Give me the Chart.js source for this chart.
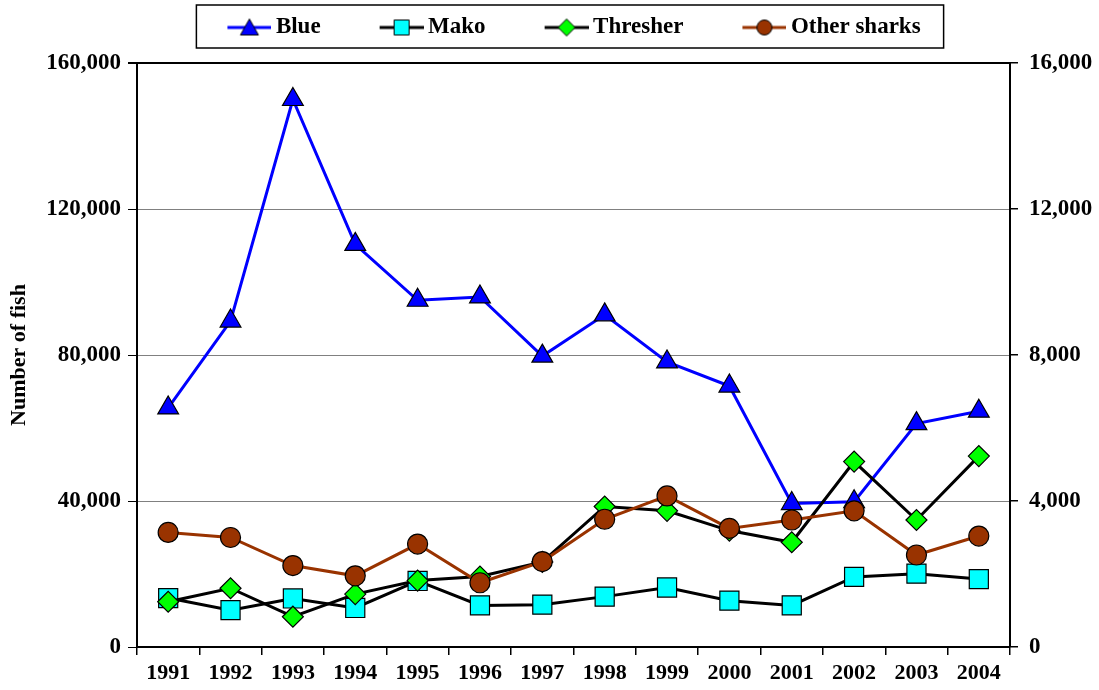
<!DOCTYPE html>
<html lang="en">
<head>
  <meta charset="utf-8" />
  <title>Shark catch by species</title>
  <style>
    html, body { margin: 0; padding: 0; background: #ffffff; }
    #wrap { width: 1099px; height: 690px; }
  </style>
</head>
<body>
  <div id="wrap"><canvas id="chart" width="1099" height="690"></canvas></div>

  <script src="https://cdn.jsdelivr.net/npm/chart.js"></script>

  <script>
    // values (blue on left axis, the rest on right axis)
    const years = ['1991', '1992', '1993', '1994', '1995', '1996', '1997',
                   '1998', '1999', '2000', '2001', '2002', '2003', '2004'];
    const blue = [65500, 89300, 150000, 110300, 95000, 95900, 79700,
                  91000, 78100, 71500, 39300, 39800, 61200, 64600];
    const mako = [1340, 1010, 1330, 1070, 1810, 1140, 1160,
                  1380, 1630, 1270, 1140, 1920, 2010, 1860];
    const thresher = [1240, 1610, 830, 1450, 1820, 1930, 2330,
                      3850, 3730, 3190, 2870, 5080, 3480, 5230];
    const otherSharks = [3140, 3000, 2230, 1950, 2820, 1760, 2340,
                         3500, 4140, 3250, 3480, 3730, 2520, 3040];
    const leftTicks = [0, 40000, 80000, 120000, 160000];
    const rightTicks = [0, 4000, 8000, 12000, 16000];

    const serif = 'Liberation Serif';
    const fmt = v => Number(v).toLocaleString('en-US');

    // legend icon: line with the marker on it (left part kept transparent for spacing)
    function legendIcon(lineColor, style, fill) {
      const c = document.createElement('canvas');
      c.width = 100; c.height = 26;
      const g = c.getContext('2d');
      const cx = 78, cy = 13;
      g.strokeStyle = lineColor;
      g.lineWidth = 3;
      g.beginPath(); g.moveTo(56, cy); g.lineTo(100, cy); g.stroke();
      g.fillStyle = fill;
      g.strokeStyle = '#000';
      g.lineWidth = 1;
      g.beginPath();
      if (style === 'triangle') {
        g.moveTo(cx, cy - 8.5); g.lineTo(cx + 9, cy + 7.5); g.lineTo(cx - 9, cy + 7.5); g.closePath();
      } else if (style === 'rect') {
        g.rect(cx - 7.5, cy - 7.5, 15, 15);
      } else if (style === 'rectRot') {
        g.moveTo(cx, cy - 8.5); g.lineTo(cx + 8.5, cy); g.lineTo(cx, cy + 8.5); g.lineTo(cx - 8.5, cy); g.closePath();
      } else {
        g.arc(cx, cy, 7.5, 0, Math.PI * 2);
      }
      g.fill(); g.stroke();
      return c;
    }

    const series = [
      { label: 'Blue', data: blue, axis: 'y', line: '#0000ff', fill: '#0000ff', style: 'triangle', r: 12, order: 4 },
      { label: 'Mako', data: mako, axis: 'y2', line: '#000000', fill: '#00ffff', style: 'rect', r: 13.5, order: 3 },
      { label: 'Thresher', data: thresher, axis: 'y2', line: '#000000', fill: '#00ff00', style: 'rectRot', r: 10.5, order: 2 },
      { label: 'Other sharks', data: otherSharks, axis: 'y2', line: '#993300', fill: '#993300', style: 'circle', r: 10, order: 1 },
    ];

    const legendFrame = {
      id: 'legendFrame',
      beforeLayout(chart) {
        const lg = chart.legend;
        if (lg && !lg._tall) {
          const fit = lg.fit;
          lg.fit = function () { fit.call(this); this.height = 57; };
          lg._tall = true;
        }
      },
      afterDraw(chart) {
        const lg = chart.legend;
        const hb = lg && lg.legendHitBoxes;
        if (!hb || !hb.length) return;
        const last = hb[hb.length - 1];
        const x0 = hb[0].left + 18;
        const x1 = last.left + last.width + 23;
        const ctx = chart.ctx;
        ctx.save();
        ctx.strokeStyle = '#000';
        ctx.lineWidth = 1.5;
        ctx.strokeRect(x0, lg.top - 1, x1 - x0, 43);
        ctx.restore();
      }
    };

    new Chart(document.getElementById('chart'), {
      type: 'line',
      data: {
        labels: years,
        datasets: series.map(s => ({
          label: s.label,
          data: s.data,
          yAxisID: s.axis,
          borderColor: s.line,
          backgroundColor: s.fill,
          borderWidth: 3,
          pointStyle: s.style,
          pointRadius: s.r,
          pointBackgroundColor: s.fill,
          pointBorderColor: '#000',
          pointBorderWidth: 1.2,
          tension: 0,
          order: s.order,
          _icon: legendIcon(s.line, s.style, s.fill)
        }))
      },
      options: {
        responsive: false,
        animation: false,
        devicePixelRatio: 1,
        layout: { padding: { top: 6, left: 0, right: 0, bottom: 0 } },
        plugins: {
          tooltip: { enabled: false },
          legend: {
            position: 'top',
            labels: {
              usePointStyle: true,
              pointStyleWidth: 86,
              padding: 10,
              color: '#000',
              font: { family: serif, weight: 'bold', size: 23 },
              generateLabels(chart) {
                return chart.data.datasets.map((ds, i) => ({
                  text: ds.label,
                  pointStyle: ds._icon,
                  fillStyle: ds.backgroundColor,
                  strokeStyle: ds.borderColor,
                  lineWidth: 0,
                  fontColor: '#000',
                  hidden: false,
                  datasetIndex: i
                }));
              }
            }
          }
        },
        scales: {
          x: {
            type: 'category',
            offset: true,
            grid: { offset: true, drawOnChartArea: false, tickLength: 8, color: '#000', lineWidth: 1.5 },
            border: { color: '#000', width: 2 },
            ticks: {
              color: '#000', padding: 5, maxRotation: 0, autoSkip: false,
              font: { family: serif, weight: 'bold', size: 22 }
            },
            afterFit(s) { s.height = 43; }
          },
          y: {
            position: 'left',
            min: leftTicks[0],
            max: leftTicks[leftTicks.length - 1],
            afterBuildTicks(s) { s.ticks = leftTicks.map(v => ({ value: v })); },
            grid: {
              color: c => c.tick.value === leftTicks[leftTicks.length - 1] ? '#000' : '#808080',
              lineWidth: c => c.tick.value === leftTicks[leftTicks.length - 1] ? 2 : 1,
              tickColor: '#000',
              tickLength: 9
            },
            border: { color: '#000', width: 2 },
            ticks: {
              color: '#000', padding: 7,
              font: { family: serif, weight: 'bold', size: 23 },
              callback: v => fmt(v)
            },
            title: {
              display: true,
              text: 'Number of fish',
              color: '#000',
              font: { family: serif, weight: 'bold', size: 22 },
              padding: { top: 6, bottom: 0 }
            },
            afterFit(s) { s.width = 137; }
          },
          y2: {
            position: 'right',
            min: rightTicks[0],
            max: rightTicks[rightTicks.length - 1],
            afterBuildTicks(s) { s.ticks = rightTicks.map(v => ({ value: v })); },
            grid: { drawOnChartArea: false, color: '#000', tickLength: 8, lineWidth: 1.5 },
            border: { color: '#000', width: 2 },
            ticks: {
              color: '#000', padding: 11,
              font: { family: serif, weight: 'bold', size: 23 },
              callback: v => fmt(v)
            },
            afterFit(s) { s.width = 89; }
          }
        }
      },
      plugins: [legendFrame]
    });
  </script>
</body>
</html>
